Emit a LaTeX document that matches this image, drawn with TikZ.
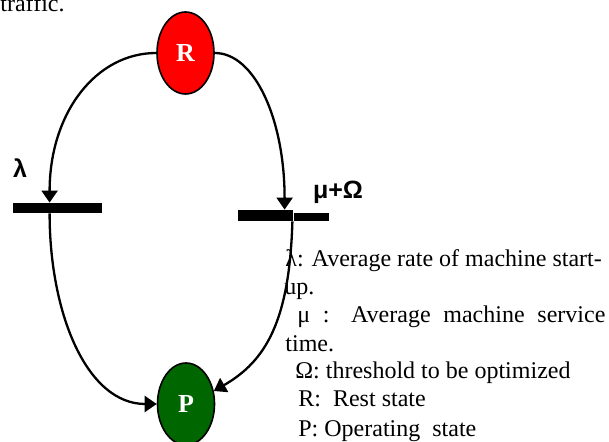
\documentclass[tikz,border=0pt]{standalone}
\usepackage{fontspec}
\setmainfont{Liberation Serif}
\newfontfamily\labelfont{Liberation Sans}
\usetikzlibrary{arrows.meta, calc, shapes.geometric, positioning}
\definecolor{restred}{HTML}{FF0000}
\definecolor{opgreen}{HTML}{006600}
\tikzset{
  >={Triangle[length=6pt, width=8pt]},
  state/.style={ellipse, draw, line width=0.8pt, minimum width=28.5pt, minimum height=41pt,
    inner sep=0pt, text=white, font=\fontsize{13}{15}\selectfont\bfseries},
  bar/.style={fill=black, inner sep=0pt},
  arc/.style={->, line width=1.15pt},
  rate/.style={font=\labelfont\fontsize{12.5}{14}\selectfont\bfseries},
  legend/.style={anchor=base west, inner sep=0pt, font=\fontsize{12}{14}\selectfont},
}

\begin{document}
\begin{tikzpicture}[x=0.5pt, y=-0.5pt]
  \clip (0,0) rectangle (609,442);
  % caption line of the page, cut at the top
  \node[legend] (cut) at (0,12) {traffic.};
  % ---------------- states
  \node[state, fill=restred] (R) at (185.5,53) {R};
  \node[state, fill=opgreen] (P) at (186,404) {P};
  % ---------------- transitions (bars)
  \node[bar, minimum width=44.5pt, minimum height=5pt] (lbar) at (57.5,208) {};
  \node[bar, minimum width=27.5pt, minimum height=5.5pt] (rbar) at (265.5,215.5) {};
  \node[bar, minimum width=17.5pt, minimum height=4pt, anchor=south west] (rtail) at (rbar.south east) {};
  \coordinate (lin) at ($(lbar.north west)+(37,0)$);
  \coordinate (lout) at ($(lbar.south west)+(37,0)$);
  \coordinate (rin) at ($(rbar.north west)+(47,0)$);
  \coordinate (rout) at ($(rbar.south east)+(-1,0)$);
  \node[rate] (lam) at (20,168) {λ};
  \node[rate] (muom) at (338,192) {μ+Ω};
  % ---------------- arcs
  \draw[arc] (R.west) .. controls +(-60,0) and +(0,-90) .. (lin);
  \draw[arc] (lout) .. controls +(0,100) and +(-70,0) .. (P.west);
  \draw[arc] (R.east) .. controls +(40,0) and +(0,-90) .. (rin);
  \draw[arc] (rout) .. controls +(-3,100) and +(52,-30) .. (P.25);
  % ---------------- legend
  \node[legend] (leg1) at (285,267) {λ: Average rate of machine start-};
  \node[legend] (leg2) at (284,295) {up.};
  \node[legend] (leg3) at (297,323) {\makebox[154pt][s]{μ : Average machine service}};
  \node[legend] (leg4) at (285,351) {time.};
  \node[legend] (leg5) at (295,379) {Ω: threshold to be optimized};
  \node[legend] (leg6) at (298,407) {R:\ \ Rest state};
  \node[legend] (leg7) at (298,436) {P: Operating\ \ state};
\end{tikzpicture}
\end{document}
